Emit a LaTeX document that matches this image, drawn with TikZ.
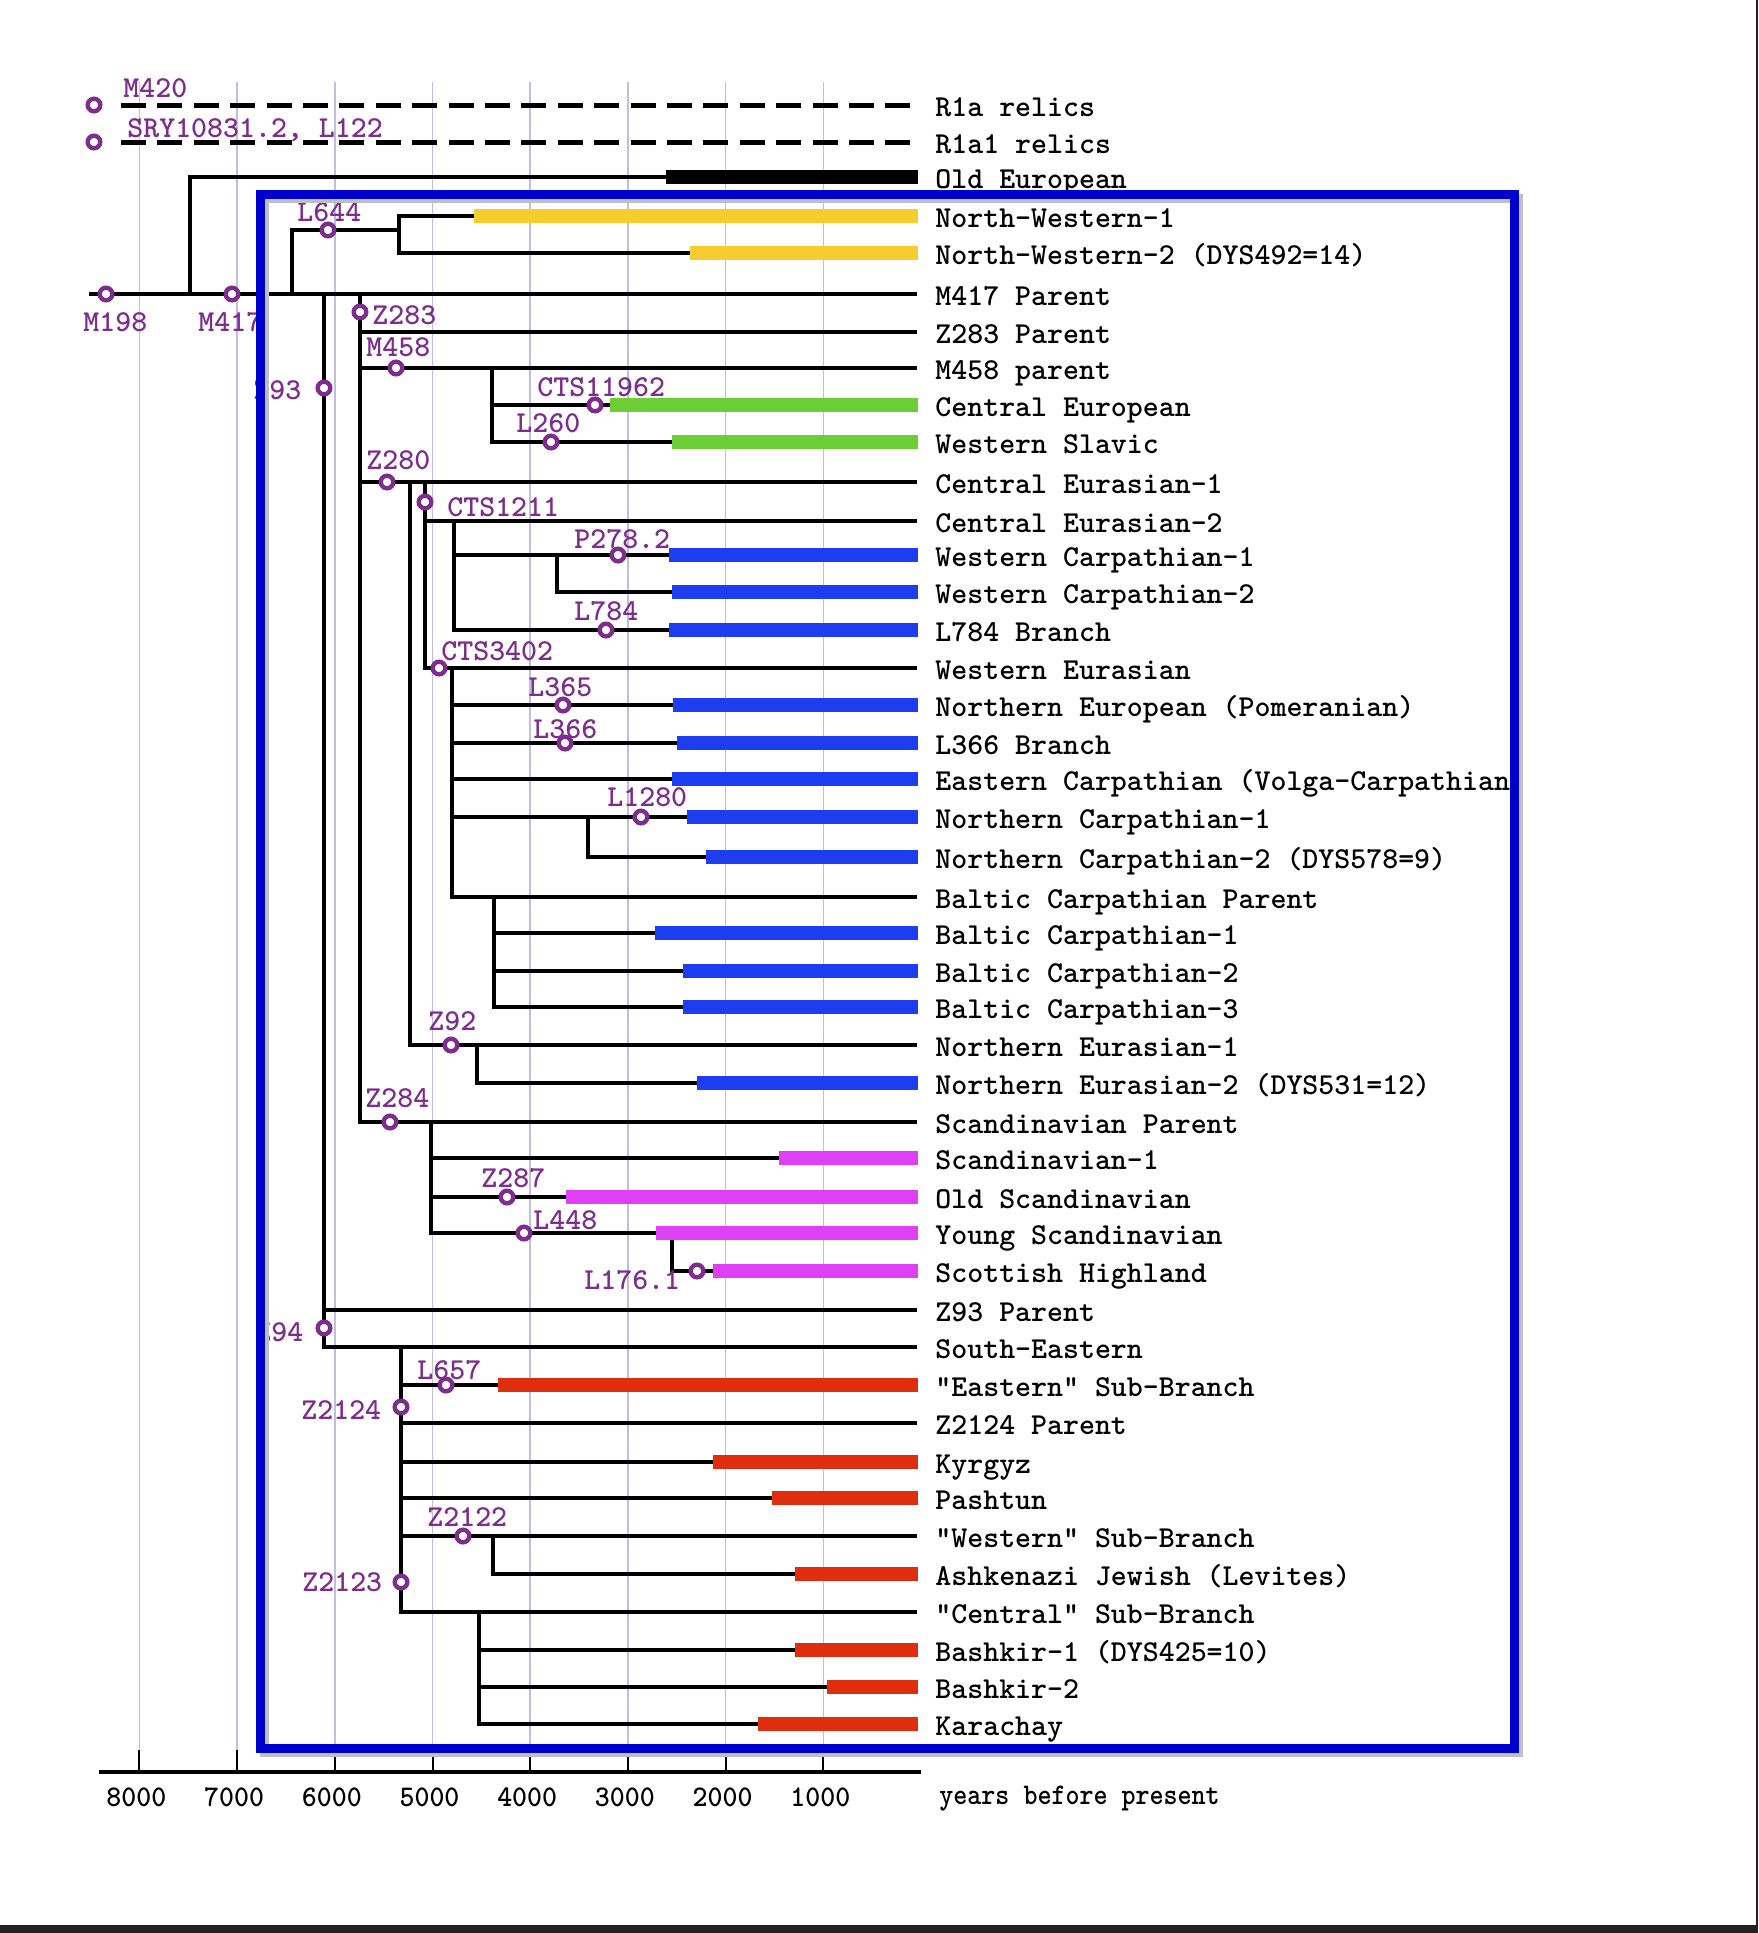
\documentclass[tikz,border=0pt]{standalone}
\usepackage{fontspec}
\newfontfamily\lmb{lmmonolt10-bold.otf}
\definecolor{purp}{RGB}{125,45,140}
\definecolor{gridc}{RGB}{192,190,222}
\definecolor{ylw}{RGB}{245,205,45}
\definecolor{grn}{RGB}{108,205,52}
\definecolor{blu}{RGB}{30,60,240}
\definecolor{mag}{RGB}{224,64,245}
\definecolor{rd}{RGB}{222,46,14}
\definecolor{boxblue}{RGB}{0,0,204}
\definecolor{band}{RGB}{34,34,34}
\begin{document}
\begin{tikzpicture}[x=0.5pt,y=-0.5pt,
  tree/.style={line width=1.75pt, black, line join=miter},
  bar/.style={line width=7pt},
  dashline/.style={line width=2.5pt, dash pattern=on 12.5pt off 5.7pt},
  gridline/.style={line width=0.75pt, gridc},
  mut/.style={circle, draw=purp, fill=white, line width=2.2pt, minimum size=6.3pt, inner sep=0pt},
  lbl/.style={font=\lmb\fontsize{15.2}{18}\selectfont, anchor=base west, inner sep=0pt},
  plbl/.style={lbl, text=purp},
  axlbl/.style={font=\lmb\fontsize{15}{18}\selectfont, anchor=base, inner sep=0pt}]
\useasboundingbox (0,0) rectangle (1758,1933);
\fill[white] (0,0) rectangle (1758,1933);
% grid lines
\foreach \gx in {139.4,237.1,334.8,432.5,530.2,627.9,725.6,823.3}
  \draw[gridline] (\gx,82) -- (\gx,1750);
% relics
\node[mut] (m420) at (94,105) {};
\node[mut] (sry) at (94,142) {};
\coordinate (r1a) at (917,105);
\coordinate (r1a1) at (917,142);
\draw[dashline] (121,105) -- (r1a);
\draw[dashline] (121,142) -- (r1a1);
% main stem
\coordinate (root) at (89,294);
\coordinate (e6) at (917,294);
\draw[tree] (root) -- (e6);
\node[mut] (m198) at (106,294) {};
\node[mut] (m417) at (232,294) {};
% Old European
\draw[tree] (190,294) |- (917,177);
\draw[bar,black] (666,177) -- (918,177);
% L644
\draw[tree] (292,294) |- (399,230);
\draw[tree] (917,216) -| (399,253) -- (917,253);
\node[mut] (l644) at (328,230) {};
\draw[bar,ylw] (474,216) -- (918,216);
\draw[bar,ylw] (690,253) -- (918,253);
% Z93 stem
\draw[tree] (324,294) |- (917,1347);
\draw[tree] (324,1310) -- (917,1310);
% Z283 stem
\draw[tree] (360,294) |- (917,1122);
\draw[tree] (360,332) -- (917,332);
\draw[tree] (360,368) -- (917,368);
\draw[tree] (360,482) -- (917,482);
% M458
\draw[tree] (917,405) -| (492,368);
\draw[tree] (492,405) |- (917,442);
\draw[bar,grn] (610,405) -- (918,405);
\draw[bar,grn] (672,442) -- (918,442);
% Z280
\draw[tree] (410,482) |- (917,1045);
\draw[tree] (425,482) |- (917,668);
\draw[tree] (425,521) -- (917,521);
% Western Carpathian
\draw[tree] (917,555) -| (454,521);
\draw[tree] (454,555) |- (917,630);
\draw[tree] (557,555) |- (917,592);
\draw[bar,blu] (669,555) -- (918,555);
\draw[bar,blu] (672,592) -- (918,592);
\draw[bar,blu] (669,630) -- (918,630);
% CTS3402
\draw[tree] (452,668) |- (917,897);
\foreach \yy in {705,743,779,817} \draw[tree] (452,\yy) -- (917,\yy);
\draw[tree] (588,817) |- (917,857);
\draw[bar,blu] (673,705) -- (918,705);
\draw[bar,blu] (677,743) -- (918,743);
\draw[bar,blu] (672,779) -- (918,779);
\draw[bar,blu] (687,817) -- (918,817);
\draw[bar,blu] (706,857) -- (918,857);
% Baltic
\draw[tree] (494,897) |- (917,1007);
\draw[tree] (494,933) -- (917,933);
\draw[tree] (494,971) -- (917,971);
\draw[bar,blu] (655,933) -- (918,933);
\draw[bar,blu] (683,971) -- (918,971);
\draw[bar,blu] (683,1007) -- (918,1007);
% Z92
\draw[tree] (477,1045) |- (917,1083);
\draw[bar,blu] (697,1083) -- (918,1083);
% Z284
\draw[tree] (431,1122) |- (917,1233);
\draw[tree] (431,1158) -- (917,1158);
\draw[tree] (431,1197) -- (917,1197);
\draw[tree] (672,1233) |- (917,1271);
\draw[bar,mag] (779,1158) -- (918,1158);
\draw[bar,mag] (566,1197) -- (918,1197);
\draw[bar,mag] (656,1233) -- (918,1233);
\draw[bar,mag] (713,1271) -- (918,1271);
% Z94 / Z2124
\draw[tree] (401,1347) |- (917,1612);
\foreach \yy in {1385,1423,1462,1498,1536} \draw[tree] (401,\yy) -- (917,\yy);
\draw[tree] (493,1536) |- (917,1574);
\draw[tree] (479,1612) |- (917,1724);
\draw[tree] (479,1650) -- (917,1650);
\draw[tree] (479,1687) -- (917,1687);
\draw[bar,rd] (498,1385) -- (918,1385);
\draw[bar,rd] (713,1462) -- (918,1462);
\draw[bar,rd] (772,1498) -- (918,1498);
\draw[bar,rd] (795,1574) -- (918,1574);
\draw[bar,rd] (795,1650) -- (918,1650);
\draw[bar,rd] (827,1687) -- (918,1687);
\draw[bar,rd] (758,1724) -- (918,1724);
% mutation circles
\node[mut] (z93) at (324,388) {};
\node[mut] (z283) at (360,312) {};
\node[mut] (m458) at (396,368) {};
\node[mut] (cts11962) at (595,405) {};
\node[mut] (l260) at (551,442) {};
\node[mut] (z280) at (387,482) {};
\node[mut] (cts1211) at (425,502) {};
\node[mut] (p278) at (618,555) {};
\node[mut] (l784) at (606,630) {};
\node[mut] (cts3402) at (439,668) {};
\node[mut] (l365) at (563,705) {};
\node[mut] (l366) at (565,743) {};
\node[mut] (l1280) at (641,817) {};
\node[mut] (z92) at (451,1045) {};
\node[mut] (z284) at (390,1122) {};
\node[mut] (z287) at (507,1197) {};
\node[mut] (l448) at (524,1233) {};
\node[mut] (l176) at (697,1271) {};
\node[mut] (z94) at (324,1328) {};
\node[mut] (l657) at (446,1385) {};
\node[mut] (z2124) at (401,1407) {};
\node[mut] (z2122) at (463,1536) {};
\node[mut] (z2123) at (401,1582) {};
% purple labels (baseline = centre + 9)
\foreach \nm/\xx/\yy/\tt in {a/123/97/M420, b/127/137/{SRY10831.2, L122}, c/83/331/M198,
  d/198/331/M417, e/297/221/L644, f/372/324/Z283, g/366/356/M458, h/253/399/Z93,
  i/537/396/CTS11962, j/516/432/L260, k/366/469/Z280, l/447/516/CTS1211,
  m/574/548/P278.2, n/574/620/L784, o/441/660/CTS3402, p/528/696/L365,
  q/533/738/L366, r/607/806/L1280, s/428/1030/Z92, t/365/1107/Z284,
  u/481/1187/Z287, v/533/1229/L448, w/584/1289/L176.1, x/255/1341/Z94,
  y/417/1379/L657, z/301/1419/Z2124, aa/427/1526/Z2122, ab/302/1591/Z2123}
  \node[plbl] (pl\nm) at (\xx,\yy) {\tt};
% branch labels (baseline = line + 11)
\foreach \yy/\tt [count=\i] in {105/R1a relics, 142/R1a1 relics, 177/Old European,
  216/North-Western-1, 253/North-Western-2 (DYS492=14), 294/M417 Parent,
  332/Z283 Parent, 368/M458 parent, 405/Central European, 442/Western Slavic,
  482/Central Eurasian-1, 521/Central Eurasian-2, 555/Western Carpathian-1,
  592/Western Carpathian-2, 630/L784 Branch, 668/Western Eurasian,
  705/Northern European (Pomeranian), 743/L366 Branch,
  779/Eastern Carpathian (Volga-Carpathian, 817/Northern Carpathian-1,
  857/Northern Carpathian-2 (DYS578=9), 897/Baltic Carpathian Parent,
  933/Baltic Carpathian-1, 971/Baltic Carpathian-2, 1007/Baltic Carpathian-3,
  1045/Northern Eurasian-1, 1083/Northern Eurasian-2 (DYS531=12),
  1122/Scandinavian Parent, 1158/Scandinavian-1, 1197/Old Scandinavian,
  1233/Young Scandinavian, 1271/Scottish Highland, 1310/Z93 Parent,
  1347/South-Eastern, 1385/"Eastern" Sub-Branch, 1423/Z2124 Parent,
  1462/Kyrgyz, 1498/Pashtun, 1536/"Western" Sub-Branch,
  1574/Ashkenazi Jewish (Levites), 1612/"Central" Sub-Branch,
  1650/Bashkir-1 (DYS425=10), 1687/Bashkir-2, 1724/Karachay}
  \node[lbl] (br\i) at (935,\yy+11) {\tt};
% axis
\coordinate (axl) at (99,1772);
\coordinate (axr) at (921,1772);
\draw[line width=2pt] (axl) -- (axr);
\foreach \gx/\tt in {139.4/8000,237.1/7000,334.8/6000,432.5/5000,530.2/4000,627.9/3000,725.6/2000,823.3/1000}{
  \draw[line width=1pt] (\gx,1750) -- (\gx,1772);
  \node[axlbl] (ax\tt) at (\gx-3,1806) {\scalebox{0.95}[1]{\tt}};
}
\node[axlbl, anchor=base west] (ybp) at (939,1804) {\scalebox{0.89}[1]{years before present}};
% blue frame with shadow
\draw[line width=4.5pt, black!25] (264,198) rectangle (1518,1752);
\draw[line width=4.5pt, boxblue] (260,194) rectangle (1514,1748);
% screenshot edges
\fill[band] (0,1925) rectangle (1758,1933);
\draw[line width=0.8pt, band] (1757,0) -- (1757,1925);
\end{tikzpicture}
\end{document}
